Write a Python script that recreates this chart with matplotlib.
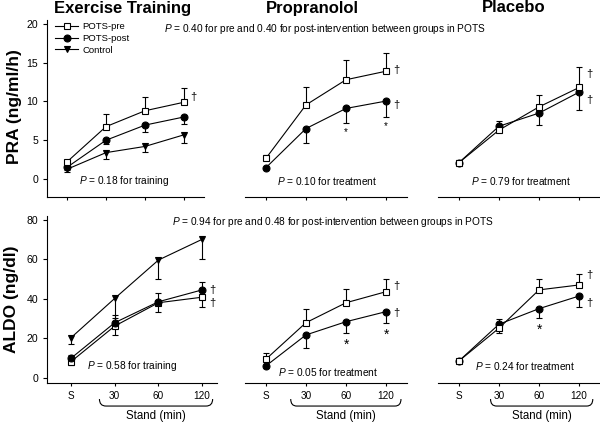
import matplotlib.pyplot as plt
import numpy as np
from matplotlib.path import Path
from matplotlib.patches import PathPatch
import matplotlib.transforms as mtransforms

plt.rcParams['font.family'] = ['Liberation Sans', 'DejaVu Sans']
plt.rcParams['mathtext.fontset'] = 'custom'
plt.rcParams['mathtext.rm'] = 'Liberation Sans'
plt.rcParams['mathtext.it'] = 'Liberation Sans:italic'

# ---- data ----
stand = ['S', '30', '60', '120']
groups = ['Exercise Training', 'Propranolol', 'Placebo']

# PRA (ng/ml/h)
pra_ex_pre = [2.2, 6.75, 8.8, 9.9]
pra_ex_pre_err = [0.3, 1.6, 1.8, 1.8]
pra_ex_post = [1.5, 5.0, 6.95, 8.0]
pra_ex_post_err = [0.3, 0.5, 0.85, 0.95]
pra_ex_ctrl = [1.25, 3.4, 4.2, 5.7]
pra_ex_ctrl_err = [0.3, 0.8, 0.7, 1.0]

pra_pro_pre = [2.65, 9.55, 12.8, 13.9]
pra_pro_pre_err = [0.45, 2.35, 2.55, 2.4]
pra_pro_post = [1.45, 6.5, 9.1, 10.05]
pra_pro_post_err = [0.2, 1.9, 1.9, 2.1]

pra_pla_pre = [2.1, 6.3, 9.3, 11.8]
pra_pla_pre_err = [0.3, 1.2, 1.5, 2.6]
pra_pla_post = [2.1, 6.8, 8.5, 11.2]
pra_pla_post_err = [0.3, 0.4, 1.5, 2.3]

# ALDO (ng/dl)
aldo_ex_pre = [8.3, 26.3, 38.1, 40.9]
aldo_ex_pre_err = [1.5, 4.5, 4.5, 4.9]
aldo_ex_post = [10.0, 28.0, 38.6, 44.6]
aldo_ex_post_err = [1.5, 3.9, 4.3, 4.2]
aldo_ex_ctrl = [20.4, 40.3, 59.7, 70.2]
aldo_ex_ctrl_err = [3.4, 10.0, 9.7, 10.2]

aldo_pro_pre = [9.5, 28.0, 38.1, 43.7]
aldo_pro_pre_err = [3.0, 7.1, 6.9, 6.3]
aldo_pro_post = [6.1, 21.8, 28.5, 33.6]
aldo_pro_post_err = [1.0, 6.4, 5.9, 5.9]

aldo_pla_pre = [8.6, 25.2, 44.6, 47.1]
aldo_pla_pre_err = [1.0, 4.8, 5.4, 5.6]
aldo_pla_post = [8.6, 27.2, 35.1, 41.5]
aldo_pla_post_err = [1.0, 4.3, 4.9, 5.7]

top_between = '$P$ = 0.40 for pre and 0.40 for post-intervention between groups in POTS'
bot_between = '$P$ = 0.94 for pre and 0.48 for post-intervention between groups in POTS'
top_p = ['$P$ = 0.18 for training', '$P$ = 0.10 for treatment', '$P$ = 0.79 for treatment']
bot_p = ['$P$ = 0.58 for training', '$P$ = 0.05 for treatment', '$P$ = 0.24 for treatment']

# ---- layout in pixels ----
W, H = 600, 423
fig = plt.figure(figsize=(6, 4.23), dpi=100)


def px_axes(l, r, t, b):
    return fig.add_axes([l / W, 1 - b / H, (r - l) / W, (b - t) / H])


def px_text(x, y, s, **kw):
    fig.text(x / W, 1 - y / H, s, **kw)


def series(ax, y, err, up, marker, face, z, label=None):
    x = np.arange(len(y))
    y = np.array(y)
    err = np.array(err)
    end = y + err if up else y - err
    ax.vlines(x, y, end, color='k', lw=0.8, zorder=z)
    ax.plot(x, end, ls='none', marker='_', ms=5, mew=0.8, color='k', zorder=z)
    ax.plot(x, y, color='k', lw=0.8, marker=marker, ms=5, mfc=face, mec='k',
            mew=0.8, zorder=z + 0.5, label=label)


def brace(ax, x0, x1):
    tr = mtransforms.blended_transform_factory(ax.transData, ax.transAxes)
    yt, yb, dx = -0.096, -0.138, 0.15
    verts = [(x0, yt), (x0, yb), (x0 + dx, yb), (x1 - dx, yb),
             (x1, yb), (x1, yt)]
    codes = [Path.MOVETO, Path.CURVE3, Path.CURVE3, Path.LINETO,
             Path.CURVE3, Path.CURVE3]
    ax.add_patch(PathPatch(Path(verts, codes), fc='none', ec='k', lw=0.8,
                           transform=tr, clip_on=False))
    ax.text((x0 + x1) / 2, -0.198, 'Stand (min)', transform=tr, ha='center',
            va='center', fontsize=8.3)


def style(ax, first, top):
    for s in ['top', 'right']:
        ax.spines[s].set_visible(False)
    ax.spines['bottom'].set_linewidth(0.8)
    ax.spines['left'].set_linewidth(0.8)
    ax.set_xticks(range(4))
    ax.tick_params(axis='x', length=2.5, width=0.8, labelsize=7.2)
    ax.tick_params(axis='y', length=3, width=0.8, labelsize=7.6)
    if top:
        ax.set_xticklabels([])
    else:
        ax.set_xticklabels(stand)
    if not first:
        ax.spines['left'].set_visible(False)
        ax.set_yticks([])


# top row (PRA)
ax1 = px_axes(47, 204, 20, 197)
ax2 = px_axes(245, 407, 20, 197)
ax3 = px_axes(438, 600, 20, 197)
# bottom row (ALDO)
ax4 = px_axes(47, 217, 216, 383)
ax5 = px_axes(245, 407, 216, 383)
ax6 = px_axes(438, 600, 216, 383)

for ax in [ax1, ax2, ax3]:
    ax.set_ylim(-2.32, 20.5)
for ax in [ax4, ax5, ax6]:
    ax.set_ylim(-2.53, 82)
ax1.set_xlim(-0.51, 3.51)
ax4.set_xlim(-0.55, 3.34)
for ax in [ax2, ax3, ax5, ax6]:
    ax.set_xlim(-0.52, 3.52)

style(ax1, True, True)
style(ax2, False, True)
style(ax3, False, True)
style(ax4, True, False)
style(ax5, False, False)
style(ax6, False, False)
ax1.set_yticks([0, 5, 10, 15, 20])
ax4.set_yticks([0, 20, 40, 60, 80])

# PRA
series(ax1, pra_ex_ctrl, pra_ex_ctrl_err, False, 'v', 'k', 3, 'Control')
series(ax1, pra_ex_post, pra_ex_post_err, False, 'o', 'k', 4, 'POTS-post')
series(ax1, pra_ex_pre, pra_ex_pre_err, True, 's', 'w', 5, 'POTS-pre')
series(ax2, pra_pro_post, pra_pro_post_err, False, 'o', 'k', 4)
series(ax2, pra_pro_pre, pra_pro_pre_err, True, 's', 'w', 5)
series(ax3, pra_pla_post, pra_pla_post_err, False, 'o', 'k', 4)
series(ax3, pra_pla_pre, pra_pla_pre_err, True, 's', 'w', 5)

# ALDO
series(ax4, aldo_ex_ctrl, aldo_ex_ctrl_err, False, 'v', 'k', 3)
series(ax4, aldo_ex_pre, aldo_ex_pre_err, False, 's', 'w', 4)
series(ax4, aldo_ex_post, aldo_ex_post_err, True, 'o', 'k', 5)
series(ax5, aldo_pro_post, aldo_pro_post_err, False, 'o', 'k', 4)
series(ax5, aldo_pro_pre, aldo_pro_pre_err, True, 's', 'w', 5)
series(ax6, aldo_pla_post, aldo_pla_post_err, False, 'o', 'k', 4)
series(ax6, aldo_pla_pre, aldo_pla_pre_err, True, 's', 'w', 5)

# legend
h, l = ax1.get_legend_handles_labels()
ax1.legend(h[::-1], l[::-1], loc='upper left', bbox_to_anchor=(0.03, 1.01),
           frameon=False, fontsize=6.8, handlelength=2.4, handletextpad=0.45,
           labelspacing=0.3, borderaxespad=0)

# daggers (offsets in points from the 120-min point)
def dagger(ax, y, dy, fs=8):
    ax.annotate('\u2020', (3, y), xytext=(7, dy), textcoords='offset points',
                ha='center', va='center', fontsize=fs)

dagger(ax1, pra_ex_pre[3], 4)
dagger(ax2, pra_pro_pre[3], 1)
dagger(ax2, pra_pro_post[3], -3)
dagger(ax3, pra_pla_pre[3], 10)
dagger(ax3, pra_pla_post[3], -6)
dagger(ax4, aldo_ex_post[3], 0)
dagger(ax4, aldo_ex_pre[3], -4)
dagger(ax5, aldo_pro_pre[3], 4)
dagger(ax5, aldo_pro_post[3], -1)
dagger(ax6, aldo_pla_pre[3], 7)
dagger(ax6, aldo_pla_post[3], -5)

# asterisks below post-intervention error bars
def star(ax, y, err, i, fs):
    ax.annotate('*', (i, y[i] - err[i]), xytext=(0, -3), textcoords='offset points',
                ha='center', va='top', fontsize=fs)

star(ax2, pra_pro_post, pra_pro_post_err, 2, 7)
star(ax2, pra_pro_post, pra_pro_post_err, 3, 7)
star(ax5, aldo_pro_post, aldo_pro_post_err, 2, 10)
star(ax5, aldo_pro_post, aldo_pro_post_err, 3, 10)
star(ax6, aldo_pla_post, aldo_pla_post_err, 2, 10)

# braces under the stand times
brace(ax4, 0.65, 3.24)
brace(ax5, 0.62, 3.37)
brace(ax6, 0.79, 3.34)

# titles and labels
for x, t in zip([123, 312, 514], groups):
    px_text(x, 8, t, ha='center', va='center', fontsize=12, fontweight='bold')
px_text(15, 107, 'PRA (ng/ml/h)', rotation=90, ha='center', va='center',
        fontsize=12.5, fontweight='bold')
px_text(12, 299, 'ALDO (ng/dl)', rotation=90, ha='center', va='center',
        fontsize=12.5, fontweight='bold')

px_text(164, 29, top_between, ha='left', va='center', fontsize=7.3)
px_text(172, 222, bot_between, ha='left', va='center', fontsize=7.3)
for x, s in zip([124, 327, 521], top_p):
    px_text(x, 181, s, ha='center', va='center', fontsize=7.3)
for (x, y), s in zip([(132, 366), (328, 372), (525, 366)], bot_p):
    px_text(x, y, s, ha='center', va='center', fontsize=7.3)

fig.savefig('out.png', dpi=100)
